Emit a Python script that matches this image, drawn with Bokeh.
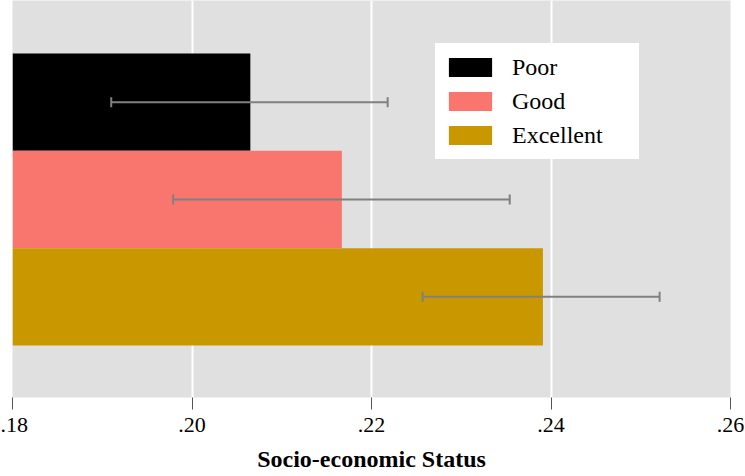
from bokeh.plotting import figure
from bokeh.models import (ColumnDataSource, Whisker, TeeHead, Legend, LegendItem,
                          FixedTicker, Range1d)
from bokeh.embed import file_html
from bokeh.resources import INLINE

categories = ["Poor", "Good", "Excellent"]
means = [0.2065, 0.2167, 0.2391]
lower = [0.1910, 0.1979, 0.2257]
upper = [0.2218, 0.2354, 0.2521]
colors = ["#000000", "#F8766D", "#C99800"]
positions = [3, 2, 1]
x_ticks = [0.18, 0.20, 0.22, 0.24, 0.26]
x_tick_labels = [".18", ".20", ".22", ".24", ".26"]
base_value = 0.18
x_title = "Socio-economic Status"

FONT = "Liberation Serif"

p = figure(width=745, height=476, output_backend="svg", toolbar_location=None,
           x_range=Range1d(0.18, 0.26), y_range=Range1d(-0.034, 4.045),
           min_border_left=12, min_border_right=15, min_border_top=0, min_border_bottom=79)

p.background_fill_color = "#E0E0E0"
p.border_fill_color = "white"
p.outline_line_color = None

src = ColumnDataSource(dict(cat=categories, y=positions, right=means,
                            left=[base_value] * len(means), lo=lower, hi=upper, color=colors))

items = []
for i, cat in enumerate(categories):
    r = p.hbar(y=[positions[i]], left=[base_value], right=[means[i]], height=1.0,
               fill_color=colors[i], line_color=None)
    items.append(LegendItem(label=cat, renderers=[r]))

head_kw = dict(size=10, line_color="#808080", line_width=2)
w = Whisker(base="y", lower="lo", upper="hi", dimension="width", source=src,
            line_color="#808080", line_width=2, level="overlay",
            upper_head=TeeHead(**head_kw), lower_head=TeeHead(**head_kw))
p.add_layout(w)

legend = Legend(items=items, location=(423, 238), orientation="vertical")
legend.background_fill_color = "white"
legend.background_fill_alpha = 1.0
legend.border_line_color = "white"
legend.border_line_width = 1
legend.padding = 7
legend.margin = 0
legend.spacing = 2
legend.glyph_width = 54
legend.glyph_height = 24
legend.label_height = 32
legend.label_width = 119
legend.label_standoff = 15
legend.label_text_font = FONT
legend.label_text_font_size = "24px"
legend.label_text_color = "black"
p.add_layout(legend)

p.yaxis.visible = False
p.ygrid.grid_line_color = None
p.xgrid.grid_line_color = "white"
p.xgrid.grid_line_width = 2

ax = p.xaxis[0]
ax.ticker = FixedTicker(ticks=x_ticks)
ax.major_label_overrides = {t: l for t, l in zip(x_ticks, x_tick_labels)}
ax.axis_line_color = None
ax.major_tick_in = 0
ax.major_tick_out = 12
ax.major_tick_line_color = "#555555"
ax.major_tick_line_width = 1
ax.minor_tick_line_color = None
ax.major_label_text_font = FONT
ax.major_label_text_font_size = "22px"
ax.major_label_text_color = "black"
ax.major_label_standoff = 8
ax.axis_label = x_title
ax.axis_label_text_font = FONT
ax.axis_label_text_font_size = "24px"
ax.axis_label_text_font_style = "bold"
ax.axis_label_text_color = "black"
ax.axis_label_standoff = 11

open("out.html", "w").write(file_html(p, INLINE))
